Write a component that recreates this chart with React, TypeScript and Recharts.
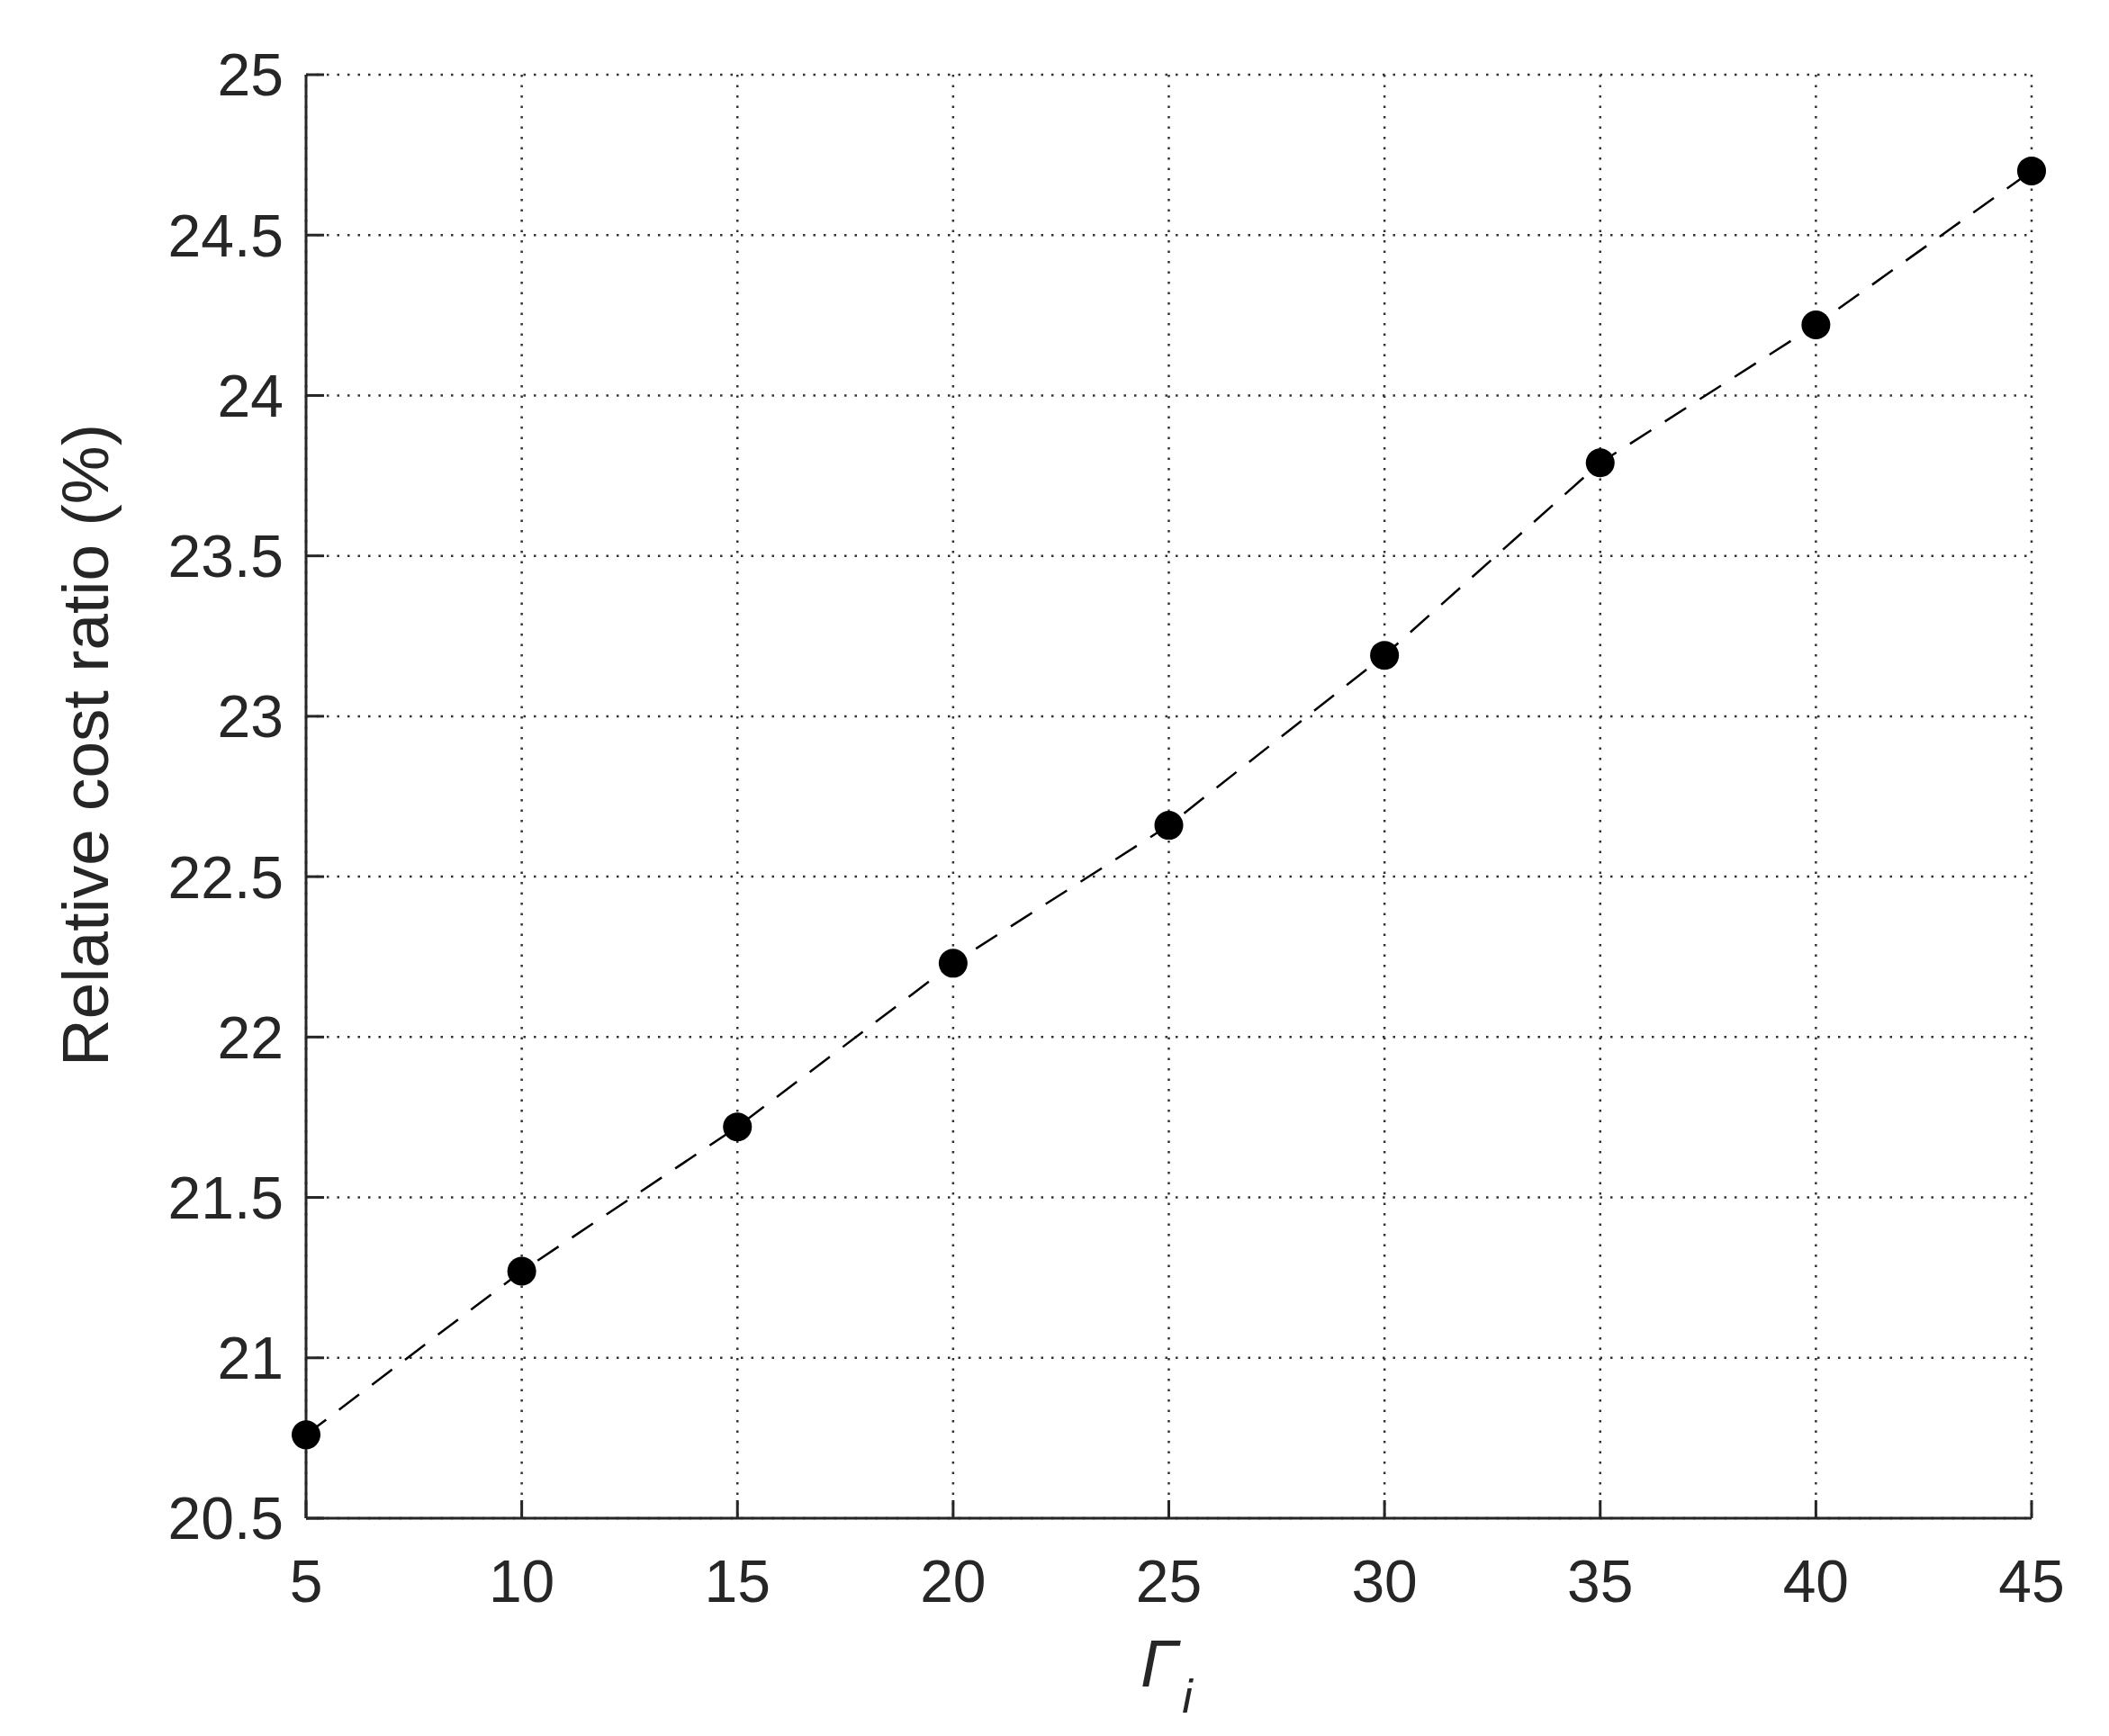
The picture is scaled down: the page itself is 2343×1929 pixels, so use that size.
import { LineChart, Line, XAxis, YAxis, CartesianGrid } from "recharts";

const gammaValues = [5, 10, 15, 20, 25, 30, 35, 40, 45];
const costRatio = [20.76, 21.27, 21.72, 22.23, 22.66, 23.19, 23.79, 24.22, 24.7];

const xTicks = [5, 10, 15, 20, 25, 30, 35, 40, 45];
const yTicks = [20.5, 21, 21.5, 22, 22.5, 23, 23.5, 24, 24.5, 25];

const FONT = '"Liberation Sans", Arial, Helvetica, sans-serif';
const INK = "#262626";

const data = gammaValues.map((g, i) => ({ gamma: g, ratio: costRatio[i] }));

const TICK_STYLE = { fontSize: 66, fill: INK, fontFamily: FONT } as const;
const AXIS_LINE = { stroke: INK, strokeWidth: 3 } as const;
const TICK_LINE = { stroke: INK, strokeWidth: 3 } as const;

function YLabel() {
  return (
    <text
      transform="translate(120 828) rotate(-90)"
      textAnchor="middle"
      fontSize={73}
      fontFamily={FONT}
      fill={INK}
    >
      Relative cost ratio (%)
    </text>
  );
}

function XLabel() {
  return (
    <text x={1296} y={1874} textAnchor="middle" fontFamily={FONT} fill={INK}>
      <tspan fontSize={74} fontStyle="italic">
        Γ
      </tspan>
      <tspan fontSize={52} fontStyle="italic" dx={4} dy={29}>
        i
      </tspan>
    </text>
  );
}

export default function App() {
  return (
    <div style={{ position: "absolute", left: 0, top: 0, background: "#fff" }}>
      <LineChart
        width={2343}
        height={1929}
        data={data}
        margin={{ top: 83, right: 86, bottom: 122, left: 140 }}
      >
        <CartesianGrid
          stroke="#333"
          strokeWidth={2.5}
          strokeDasharray="2.5 9"
          verticalPoints={undefined}
        />
        <XAxis
          dataKey="gamma"
          type="number"
          domain={[5, 45]}
          ticks={xTicks}
          interval={0}
          height={120}
          tick={TICK_STYLE}
          tickSize={-20}
          tickMargin={66}
          axisLine={AXIS_LINE}
          tickLine={TICK_LINE}
          label={<XLabel />}
        />
        <XAxis
          xAxisId="top"
          dataKey="gamma"
          type="number"
          orientation="top"
          domain={[5, 45]}
          ticks={xTicks}
          height={0}
          tick={false}
          tickSize={-20}
          axisLine={AXIS_LINE}
          tickLine={TICK_LINE}
        />
        <YAxis
          type="number"
          domain={[20.5, 25]}
          ticks={yTicks}
          interval={0}
          width={200}
          tick={TICK_STYLE}
          tickSize={-20}
          tickMargin={45}
          axisLine={AXIS_LINE}
          tickLine={TICK_LINE}
          label={<YLabel />}
        />
        <YAxis
          yAxisId="right"
          type="number"
          orientation="right"
          domain={[20.5, 25]}
          ticks={yTicks}
          width={0}
          tick={false}
          tickSize={-20}
          axisLine={AXIS_LINE}
          tickLine={TICK_LINE}
        />
        <Line
          dataKey="ratio"
          stroke="#000"
          strokeWidth={2.5}
          strokeDasharray="28 18"
          dot={{ r: 16, fill: "#000", stroke: "#000", strokeWidth: 0, strokeDasharray: "" }}
          isAnimationActive={false}
        />
      </LineChart>
    </div>
  );
}
